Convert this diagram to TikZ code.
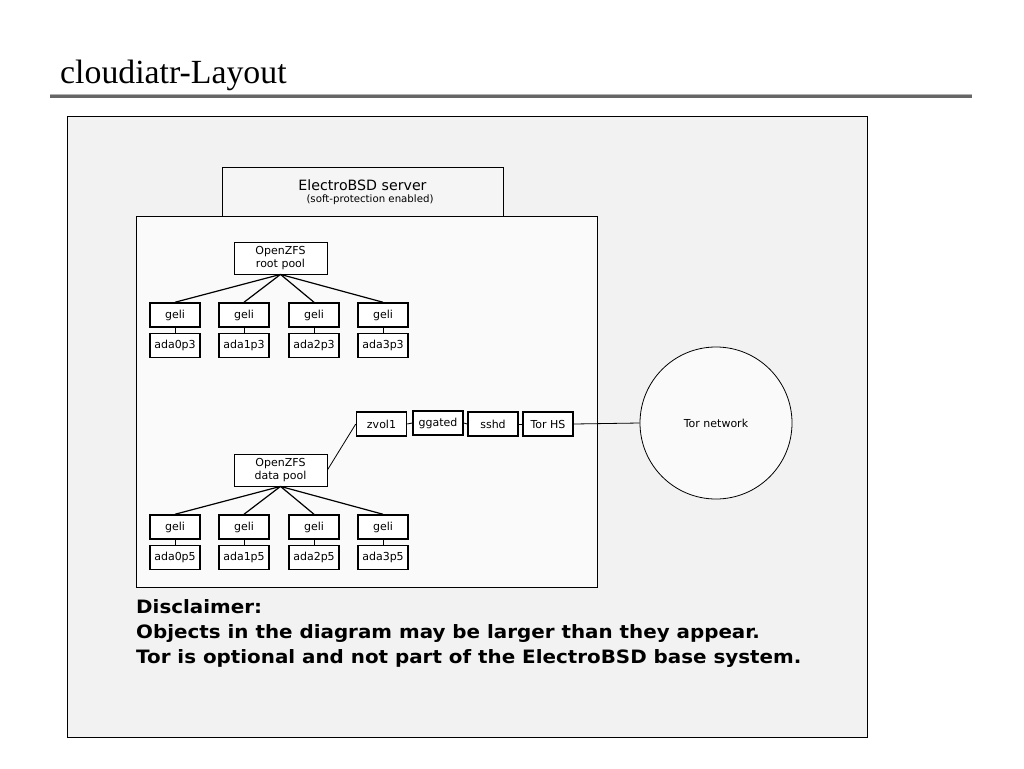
\documentclass[tikz,border=0pt]{standalone}
\usepackage{fontspec}
\setmainfont{DejaVu Sans}
\newfontfamily\titlefont{Liberation Serif}
\newfontfamily\discfont[FakeStretch=1.08]{DejaVu Sans}
\begin{document}
\begin{tikzpicture}[x=1pt,y=-1pt,
  sm/.style={draw=black,line width=1.5pt,fill=white,minimum width=50pt,minimum height=24pt,inner sep=0pt,font=\fontsize{11}{12}\selectfont},
  pool/.style={draw=black,line width=0.8pt,fill=white,minimum width=93pt,minimum height=32pt,inner sep=0pt,align=center,font=\fontsize{11}{13.5}\selectfont},
  conn/.style={line width=1.2pt},
  thin/.style={line width=0.8pt}]
\useasboundingbox (0,0) rectangle (1024,768);
\fill[white] (0,0) rectangle (1024,768);
% title
\node[anchor=base west,inner sep=0pt,font=\titlefont\fontsize{33.8}{36}\selectfont] (title) at (60,83) {cloudiatr-Layout};
\fill[gray!60] (50,93.5) rectangle (972,95);
\fill[black!60] (50,95) rectangle (972,98);
% outer box
\draw[line width=0.8pt,fill=black!5] (67,116) rectangle (867,737);
% server label box
\node[draw=black,line width=0.8pt,fill=black!4,minimum width=281pt,minimum height=49pt,inner sep=0pt] (srv) at (362.5,191.5) {};
\node[font=\fontsize{14.2}{16}\selectfont] (srvt) at (362.5,185) {ElectroBSD server};
\node[font=\fontsize{10.2}{12}\selectfont] (srvs) at (370,199.5) {(soft-protection enabled)};
% inner box
\draw[line width=0.8pt,fill=black!2] (136,216) rectangle (597,587);
% root pool
\node[pool] (root) at (280.5,258) {OpenZFS\\root pool};
\foreach \x/\i in {175/0,244/1,314/2,383/3}{
  \node[sm] (g\i) at (\x,315) {geli};
  \node[sm] (a\i) at (\x,345.5) {ada\i p3};
  \draw[thin] (g\i.south) -- (a\i.north);
  \draw[conn] (root.south) -- (g\i.north);
}
% data pool
\node[pool] (data) at (280.5,470) {OpenZFS\\data pool};
\foreach \x/\i in {175/0,244/1,314/2,383/3}{
  \node[sm] (h\i) at (\x,527) {geli};
  \node[sm] (b\i) at (\x,557.5) {ada\i p5};
  \draw[thin] (h\i.south) -- (b\i.north);
  \draw[conn] (data.south) -- (h\i.north);
}
% services
\node[sm] (zvol) at (381.5,424) {zvol1};
\node[sm] (gg) at (438,423) {ggated};
\node[sm] (sshd) at (493,424) {sshd};
\node[sm] (torhs) at (548,424) {Tor HS};
\draw[thin] (data.east) -- (zvol.west);
\draw[thin] (zvol.east) -- (gg.west);
\draw[thin] (gg.east) -- (sshd.west);
\draw[thin] (sshd.east) -- (torhs.west);
% Tor network
\node[circle,draw=black,line width=0.8pt,fill=black!2,minimum size=152pt,inner sep=0pt,font=\fontsize{11}{12}\selectfont] (tor) at (716,423) {Tor network};
\draw[thin] (torhs.east) -- (tor.west);
% disclaimer
\node[anchor=north west,inner sep=0pt,align=left,font=\discfont\bfseries\fontsize{18.4}{25}\selectfont] (disc) at (136,599) {Disclaimer:\\Objects in the diagram may be larger than they appear.\\Tor is optional and not part of the ElectroBSD base system.};
\end{tikzpicture}
\end{document}
